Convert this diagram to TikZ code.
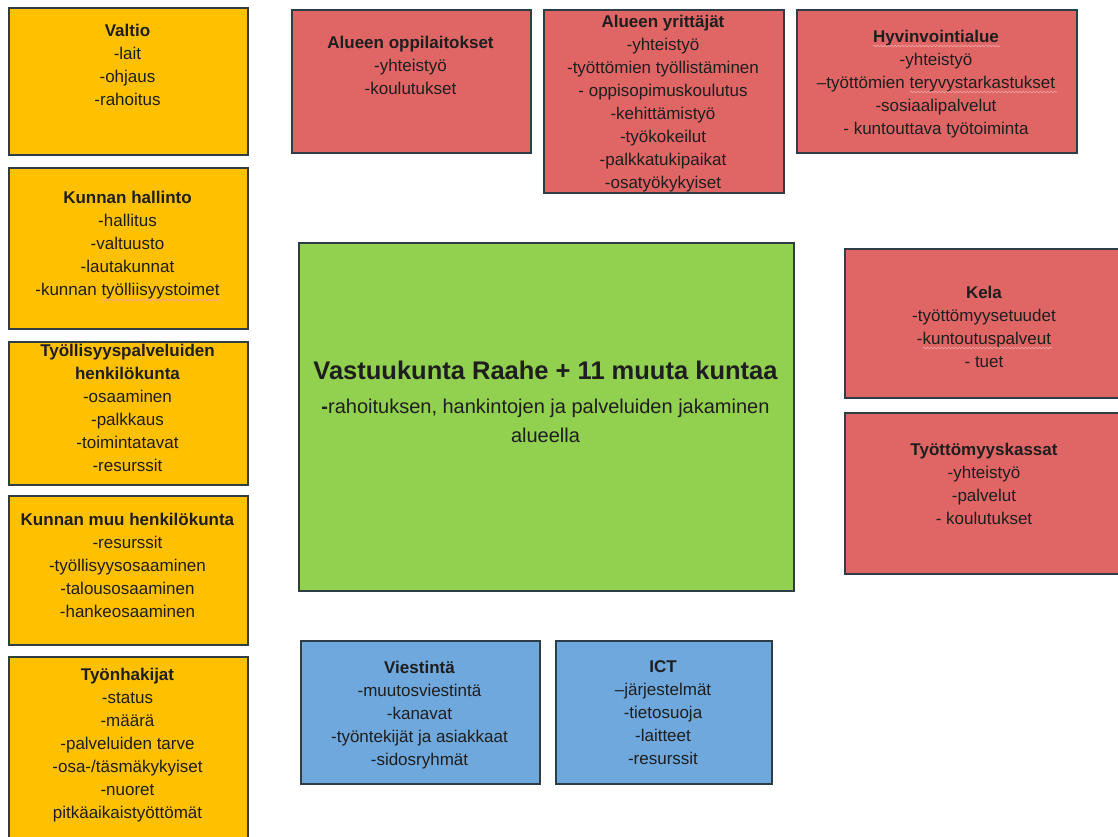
\documentclass[tikz,border=0pt]{standalone}
\usepackage{fontspec}
\setmainfont{Liberation Sans}
\usetikzlibrary{decorations.pathmorphing}
\definecolor{orangec}{HTML}{FFC000}
\definecolor{redc}{HTML}{E06666}
\definecolor{greenc}{HTML}{92D050}
\definecolor{bluec}{HTML}{6FA8DC}
\definecolor{bordc}{HTML}{2F3E46}
\definecolor{txtc}{HTML}{1E1E1E}
\definecolor{squigc}{HTML}{F4A0A0}
\tikzset{
  box/.style={draw=bordc, line width=1.6pt, inner sep=0pt, anchor=north west},
  txt/.style={align=center, inner sep=0pt, anchor=north, text=txtc,
    font=\fontsize{17}{23}\selectfont, execute at begin node=\strut, yshift=-4pt},
  squig/.style={draw=squigc, line width=0.7pt, decorate,
    decoration={snake, amplitude=0.8pt, segment length=3.5pt}},
}
\begin{document}
\begin{tikzpicture}[x=1pt,y=-1pt]
\useasboundingbox (0,0) rectangle (1118,836);
\clip (0,0) rectangle (1118,836);
% left column
\node[box, fill=orangec, minimum width=239, minimum height=147] (valtio) at (8,7) {};
\node[txt] (valtioT) at (127.5,19.9) {\textbf{Valtio}\\-lait\\-ohjaus\\-rahoitus};
\node[box, fill=orangec, minimum width=239, minimum height=161] (hallinto) at (8,167) {};
\node[txt] (hallintoT) at (127.5,186.9) {\textbf{Kunnan hallinto}\\-hallitus\\-valtuusto\\-lautakunnat\\-kunnan työlliisyystoimet};
\node[box, fill=orangec, minimum width=239, minimum height=143] (tyoll) at (8,341) {};
\node[txt] (tyollT) at (127.5,339.9) {\textbf{Työllisyyspalveluiden}\\\textbf{henkilökunta}\\-osaaminen\\-palkkaus\\-toimintatavat\\-resurssit};
\node[box, fill=orangec, minimum width=239, minimum height=149] (muu) at (8,495) {};
\node[txt] (muuT) at (127.5,508.9) {\textbf{Kunnan muu henkilökunta}\\-resurssit\\-työllisyysosaaminen\\-talousosaaminen\\-hankeosaaminen};
\node[box, fill=orangec, minimum width=239, minimum height=189] (hakijat) at (8,656) {};
\node[txt] (hakijatT) at (127.5,663.9) {\textbf{Työnhakijat}\\-status\\-määrä\\-palveluiden tarve\\-osa-/täsmäkykyiset\\-nuoret\\pitkäaikaistyöttömät};
% top row
\node[box, fill=redc, minimum width=239, minimum height=143] (oppil) at (291,9) {};
\node[txt] (oppilT) at (410.5,32.2) {\textbf{Alueen oppilaitokset}\\-yhteistyö\\-koulutukset};
\node[box, fill=redc, minimum width=240, minimum height=183] (yritt) at (543,9) {};
\node[txt] (yrittT) at (663,10.6) {\textbf{Alueen yrittäjät}\\-yhteistyö\\-työttömien työllistäminen\\- oppisopimuskoulutus\\-kehittämistyö\\-työkokeilut\\-palkkatukipaikat\\-osatyökykyiset};
\node[box, fill=redc, minimum width=280, minimum height=143] (hyvinv) at (796,9) {};
\node[txt] (hyvinvT) at (936,25.6) {\textbf{Hyvinvointialue}\\-yhteistyö\\–työttömien teryvystarkastukset\\-sosiaalipalvelut\\- kuntouttava työtoiminta};
% right column
\node[box, fill=redc, minimum width=281, minimum height=149] (kela) at (844,248) {};
\node[txt] (kelaT) at (984,281.9) {\textbf{Kela}\\-työttömyysetuudet\\-kuntoutuspalveut\\- tuet};
\node[box, fill=redc, minimum width=281, minimum height=161] (kassat) at (844,412) {};
\node[txt] (kassatT) at (984,438.9) {\textbf{Työttömyyskassat}\\-yhteistyö\\-palvelut\\- koulutukset};
% centre
\node[box, fill=greenc, minimum width=495, minimum height=348] (vastuu) at (298,242) {};
\node[anchor=base, inner sep=0pt, text=txtc, font=\fontsize{25.5}{30}\selectfont\bfseries] (vastuuT) at (545.5,379) {Vastuukunta Raahe + 11 muuta kuntaa};
\node[align=center, inner sep=0pt, anchor=north, text=txtc, font=\fontsize{20}{29}\selectfont, execute at begin node=\strut] (vastuuS) at (545.5,398.7) {{\bfseries -}rahoituksen, hankintojen ja palveluiden jakaminen\\alueella};
% bottom row
\node[box, fill=bluec, minimum width=239, minimum height=143] (viest) at (300,640) {};
\node[txt] (viestT) at (419.5,656.9) {\textbf{Viestintä}\\-muutosviestintä\\-kanavat\\-työntekijät ja asiakkaat\\-sidosryhmät};
\node[box, fill=bluec, minimum width=216, minimum height=143] (ict) at (555,640) {};
\node[txt] (ictT) at (663,656.9) {\textbf{ICT}\\–järjestelmät\\-tietosuoja\\-laitteet\\-resurssit};
% spell-check underlines
\draw[squig] (102,300) -- (220,300);
\draw[squig] (873,46) -- (1000,46);
\draw[squig] (910,92) -- (1057,92);
\draw[squig] (923,348) -- (1052,348);
\end{tikzpicture}
\end{document}
